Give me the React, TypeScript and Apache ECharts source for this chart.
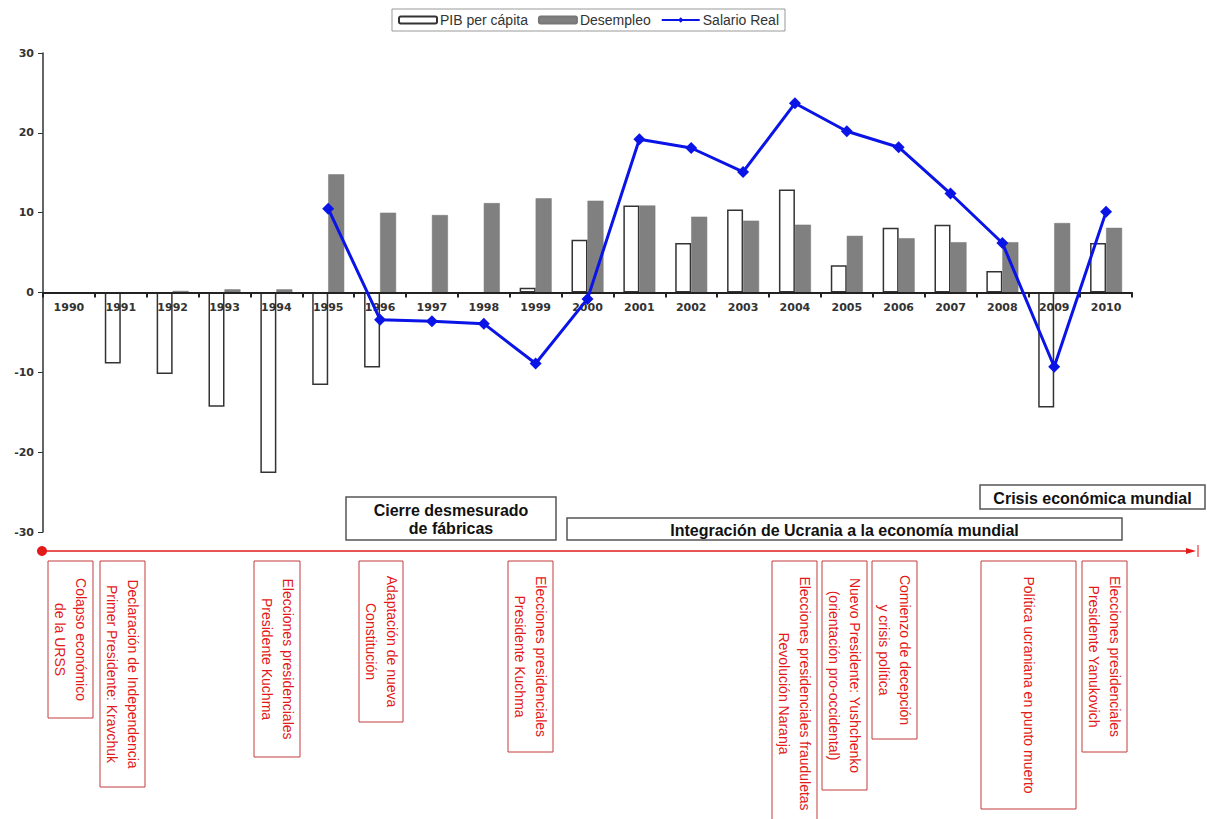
import React, { useEffect, useRef } from "react";
import * as echarts from "echarts";

const years = ["1990","1991","1992","1993","1994","1995","1996","1997","1998","1999","2000","2001","2002","2003","2004","2005","2006","2007","2008","2009","2010"];
const pibPerCapita = [null, -8.9, -10.2, -14.3, -22.6, -11.6, -9.4, null, null, 0.6, 6.6, 10.9, 6.2, 10.4, 12.9, 3.4, 8.1, 8.5, 2.7, -14.4, 6.2];
const desempleo = [null, null, 0.2, 0.4, 0.4, 14.8, 10.0, 9.7, 11.2, 11.8, 11.5, 10.9, 9.5, 9.0, 8.5, 7.1, 6.8, 6.3, 6.3, 8.7, 8.1];
const salarioReal = [null, null, null, null, null, 10.5, -3.4, -3.6, -3.9, -8.9, -0.8, 19.2, 18.1, 15.1, 23.7, 20.2, 18.2, 12.4, 6.2, -9.3, 10.1];

const blackBoxes = [
  { text: "Cierre desmesurado\nde fábricas", x: 346, y: 497, w: 210, h: 43 },
  { text: "Integración de Ucrania a la economía mundial", x: 567, y: 518, w: 555, h: 22 },
  { text: "Crisis económica mundial", x: 980, y: 485, w: 225, h: 24 },
];

const redBoxes = [
  { text: "Colapso económico\nde la URSS", x: 48, w: 45, h: 157 },
  { text: "Declaración de Independencia\nPrimer Presidente: Kravchuk", x: 100, w: 45, h: 226 },
  { text: "Elecciones presidenciales\nPresidente Kuchma", x: 254, w: 46, h: 196 },
  { text: "Adaptación de nueva\nConstitución", x: 359, w: 44, h: 161 },
  { text: "Elecciones presidenciales\nPresidente Kuchma", x: 508, w: 45, h: 191 },
  { text: "Elecciones presidenciales frauduletas\nRevolución Naranja", x: 772, w: 45, h: 265 },
  { text: "Nuevo Presidente: Yushchenko\n(orientación pro-occidental)", x: 822, w: 45, h: 229 },
  { text: "Comienzo de decepción\ny crisis política", x: 872, w: 45, h: 178 },
  { text: "Política ucraniana en punto muerto", x: 981, w: 95, h: 248 },
  { text: "Elecciones presidenciales\nPresidente Yanukovich", x: 1082, w: 45, h: 191 },
];

export default function App() {
  const ref = useRef<HTMLDivElement>(null);
  useEffect(() => {
    document.body.style.margin = "0";
    const chart = echarts.init(ref.current!, null, { renderer: "svg" });
    const red = "#e21a1a";
    const boxTop = 561;
    const graphics: any[] = [];
    blackBoxes.forEach((b) => {
      graphics.push({
        type: "rect",
        shape: { x: b.x, y: b.y, width: b.w, height: b.h },
        style: { fill: "#fff", stroke: "#555", lineWidth: 1.5 },
        z: 10,
      });
      graphics.push({
        type: "text",
        x: b.x + b.w / 2,
        y: b.y + b.h / 2 + 1,
        style: {
          text: b.text,
          fill: "#111",
          font: "bold 16px 'Liberation Sans', Arial, sans-serif",
          align: "center",
          verticalAlign: "middle",
          lineHeight: 18,
        },
        z: 11,
      });
    });
    // timeline
    graphics.push({ type: "line", shape: { x1: 42, y1: 551, x2: 1192, y2: 551 }, style: { stroke: red, lineWidth: 1.5 }, z: 10 });
    graphics.push({ type: "circle", shape: { cx: 42, cy: 551, r: 5 }, style: { fill: red }, z: 11 });
    graphics.push({ type: "polygon", shape: { points: [[1186, 548], [1196, 551], [1186, 554]] }, style: { fill: red }, z: 11 });
    graphics.push({ type: "line", shape: { x1: 1198, y1: 545, x2: 1198, y2: 557 }, style: { stroke: red, lineWidth: 1 }, z: 11 });
    redBoxes.forEach((b) => {
      graphics.push({
        type: "rect",
        shape: { x: b.x, y: boxTop, width: b.w, height: b.h },
        style: { fill: "#fff", stroke: "#c43c3c", lineWidth: 1 },
        z: 10,
      });
      graphics.push({
        type: "text",
        x: b.x + b.w / 2,
        y: boxTop + b.h / 2,
        rotation: -Math.PI / 2,
        style: {
          text: b.text,
          fill: red,
          font: "14px 'Liberation Sans', Arial, sans-serif",
          align: "center",
          verticalAlign: "middle",
          lineHeight: 21,
        },
        z: 11,
      });
    });

    const axisFont = { fontFamily: "'DejaVu Sans', sans-serif", fontWeight: "bold" as const, fontSize: 11, color: "#333" };

    chart.setOption({
      animation: false,
      backgroundColor: "#fff",
      legend: {
        left: 392,
        top: 9,
        padding: [4, 6],
        itemWidth: 38,
        itemHeight: 7,
        itemGap: 10,
        borderColor: "#999",
        borderWidth: 1,
        textStyle: { fontSize: 14, fontFamily: "'Liberation Sans', Arial, sans-serif", color: "#333", padding: [0, 0, 0, -2] },
        data: ["PIB per cápita", "Desempleo", "Salario Real"],
      },
      grid: { left: 43, right: 75, top: 53, bottom: 287, outerBoundsMode: "none" },
      xAxis: {
        type: "category",
        data: years,
        z: 4,
        axisLine: { onZero: true, lineStyle: { color: "#222", width: 2 } },
        axisTick: { show: true, length: 5, lineStyle: { color: "#222", width: 2 } },
        axisLabel: { ...axisFont, margin: -230, interval: 0 },
      },
      yAxis: {
        type: "value",
        min: -30,
        max: 30,
        interval: 10,
        splitLine: { show: false },
        axisLine: { show: true, lineStyle: { color: "#333", width: 1.5 } },
        axisTick: { show: true, length: 5, lineStyle: { color: "#333" } },
        axisLabel: { ...axisFont, margin: 9 },
      },
      series: [
        {
          name: "PIB per cápita",
          type: "bar",
          data: pibPerCapita,
          barWidth: 16,
          barGap: "0%",
          itemStyle: { color: "#fff", borderColor: "#333", borderWidth: 1.5 },
        },
        {
          name: "Desempleo",
          type: "bar",
          data: desempleo,
          barWidth: 16,
          barGap: "0%",
          itemStyle: { color: "#808080", borderColor: "#777", borderWidth: 0.5 },
        },
        {
          name: "Salario Real",
          type: "line",
          data: salarioReal,
          symbol: "diamond",
          symbolSize: 12,
          lineStyle: { color: "#0a14e6", width: 3 },
          itemStyle: { color: "#0a14e6" },
          z: 5,
        },
      ],
      graphic: graphics,
    });
    return () => chart.dispose();
  }, []);
  return <div ref={ref} style={{ width: 1207, height: 819 }} />;
}
